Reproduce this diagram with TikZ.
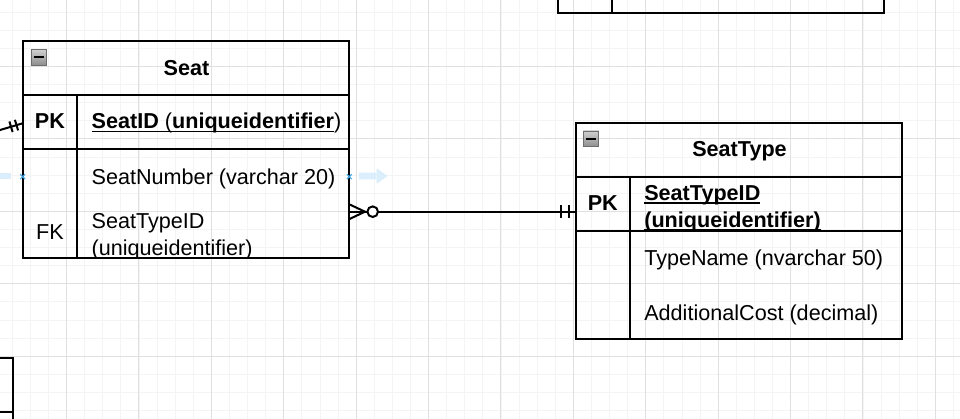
\documentclass[tikz,border=0pt]{standalone}
\usepackage{fontspec}
\setmainfont{Liberation Sans}
\usetikzlibrary{calc}
\definecolor{gridminor}{HTML}{F4F4F4}
\definecolor{gridmajor}{HTML}{E0E0E0}
\definecolor{hintblue}{HTML}{DAEEFB}
\definecolor{markblue}{HTML}{3EA8E5}
\definecolor{icontop}{HTML}{D0D0D0}
\definecolor{iconbot}{HTML}{8E8E8E}
\definecolor{iconedge}{HTML}{6E6E6E}
\begin{document}
\begin{tikzpicture}[x=1pt,y=-1pt,
  tablebox/.style={draw=black,line width=2.1pt,inner sep=0pt,outer sep=0pt,anchor=north west},
  border/.style={draw=black,line width=2.1pt},
  conn/.style={draw=black,line width=2pt},
  txt/.style={inner sep=0pt,outer sep=0pt,anchor=base west,font=\fontsize{21.6}{27}\selectfont},
  ctxt/.style={inner sep=0pt,outer sep=0pt,anchor=base,font=\fontsize{21.6}{27}\selectfont},
  uline/.style={draw=black,line width=1.4pt},
  minusicon/.style={draw=iconedge,line width=0.8pt,top color=icontop,bottom color=iconbot,minimum size=15.5pt,inner sep=0pt,outer sep=0pt},
  hint/.style={fill=hintblue,draw=none},
  bluecross/.style={draw=markblue,line width=1.1pt}
]
\useasboundingbox (0,0) rectangle (960,419);
\clip (0,0) rectangle (960,419);
% grid
\foreach \i in {0,...,54} {
  \draw[gridminor,line width=0.8pt] ({-5.9+18.1*\i},0) -- ({-5.9+18.1*\i},419);
}
\foreach \i in {0,...,24} {
  \draw[gridminor,line width=0.8pt] (0,{-5.9+18.1*\i}) -- (960,{-5.9+18.1*\i});
}
\foreach \i in {0,...,14} {
  \draw[gridmajor,line width=0.9pt] ({-5.9+72.4*\i},0) -- ({-5.9+72.4*\i},419);
}
\foreach \i in {0,...,6} {
  \draw[gridmajor,line width=0.9pt] (0,{-5.9+72.4*\i}) -- (960,{-5.9+72.4*\i});
}

% partial tables at the edges
\draw[border] (557.7,-20) rectangle (884,13.3);
\draw[border] (611.7,-20) -- (611.7,13.3);
\draw[border] (-20,358.3) -- (13.3,358.3) -- (13.3,440);
\draw[border] (-20,411.7) -- (13.3,411.7);

% blue hints
\fill[hint] (0,173) rectangle (10.5,179.5);
\fill[hint] (359,172.7) rectangle (377,179.3) (376.7,168.3) -- (387.7,176) -- (376.7,183.7) -- cycle;

% ===== Seat table =====
\node[tablebox,minimum width=326.6pt,minimum height=217.3pt] (seat) at (22.7,41) {};
\node[minusicon,anchor=north west] (seaticon) at (31,49.5) {};
\draw[black,line width=1.7pt] ($(seaticon.center)+(-4.8,0)$) -- ($(seaticon.center)+(4.8,0)$);
\node[ctxt,font=\fontsize{21.6}{27}\selectfont\bfseries] (seattitle) at (186.5,75.7) {Seat};
\node[ctxt,font=\fontsize{21.6}{27}\selectfont\bfseries] (seatpkl) at (50,129) {PK};
\node[txt,font=\fontsize{21.6}{27}\selectfont\bfseries] (seatid1) at (91.7,129) {SeatID\ \hbox{}};
\node[txt] (seatid2) at (seatid1.base east) {(};
\node[txt,font=\fontsize{21.6}{27}\selectfont\bfseries] (seatid3) at (seatid2.base east) {uniqueidentifier};
\node[txt] (seatid4) at (seatid3.base east) {)};
\draw[uline] ($(seatid1.base west)+(0,2.3)$) -- ($(seatid3.base east)+(0,2.3)$);
\node[txt] (seatnum) at (91.7,185) {SeatNumber (varchar 20)};
\node[ctxt] (seatfkl) at (50,239.5) {FK};
\begin{scope}
\clip (77.3,149.3) rectangle (349.3,257.5);
\node[txt] (seattid) at (91.7,228.2) {SeatTypeID};
\node[txt] (seattid2) at (91.7,255.8) {(uniqueidentifier)};
\end{scope}
\draw[border] (22.7,95) -- (349.3,95);
\draw[border] (22.7,149.3) -- (349.3,149.3);
\draw[border] (77.3,95) -- (77.3,258.3);
\draw[border] (seat.north west) rectangle (seat.south east);

% ===== SeatType table =====
\node[tablebox,minimum width=326.6pt,minimum height=216.6pt] (seattype) at (575.7,122.7) {};
\node[minusicon,anchor=north west] (sticon) at (583.3,131) {};
\draw[black,line width=1.7pt] ($(sticon.center)+(-4.8,0)$) -- ($(sticon.center)+(4.8,0)$);
\node[ctxt,font=\fontsize{21.6}{27}\selectfont\bfseries] (sttitle) at (739.5,156.7) {SeatType};
\node[ctxt,font=\fontsize{21.6}{27}\selectfont\bfseries] (stpkl) at (602.8,210.7) {PK};
\begin{scope}
\clip (630,176.7) rectangle (902.3,230.2);
\node[txt,font=\fontsize{21.6}{27}\selectfont\bfseries] (stid1) at (644.3,200.7) {SeatTypeID};
\node[txt,font=\fontsize{21.6}{27}\selectfont\bfseries] (stid2) at (644.3,227.6) {(uniqueidentifier)};
\draw[uline] ($(stid1.base west)+(0,2.3)$) -- ($(stid1.base east)+(0,2.3)$);
\draw[uline] ($(stid2.base west)+(0,2.3)$) -- ($(stid2.base east)+(0,2.3)$);
\end{scope}
\node[txt] (stname) at (644.3,266) {TypeName (nvarchar 50)};
\node[txt] (stcost) at (644.3,320) {AdditionalCost (decimal)};
\draw[border] (575.7,176.7) -- (902.3,176.7);
\draw[border] (575.7,230.7) -- (902.3,230.7);
\draw[border] (630,176.7) -- (630,339.3);
\draw[border] (seattype.north west) rectangle (seattype.south east);

% blue connection markers
\foreach \p in {(22.7,176.7),(349.3,176.7)} {
  \draw[bluecross] \p ++(-2.4,-2.4) -- ++(4.8,4.8);
  \draw[bluecross] \p ++(-2.4,2.4) -- ++(4.8,-4.8);
}

% ===== connectors =====
\coordinate (seatfk) at (349.3,211.7);
\coordinate (stpk) at (575.7,211.7);
\coordinate (crowtip) at (365,211.7);
\draw[conn] (seatfk) -- (stpk);
\draw[conn] ($(seatfk)+(0,-7.4)$) -- (crowtip) -- ($(seatfk)+(0,7.4)$);
\draw[conn,fill=white] (372.7,211.7) circle (5.3);
\draw[conn] ($(stpk)+(-14.7,-6.7)$) -- ($(stpk)+(-14.7,6.7)$);
\draw[conn] ($(stpk)+(-7,-6.7)$) -- ($(stpk)+(-7,6.7)$);

\coordinate (offleft) at (-30,138.9);
\coordinate (seatpk) at (22.7,123.3);
\draw[conn] (offleft) -- (seatpk);
\draw[conn] (9.4,121.5) -- (12.6,132);
\draw[conn] (14.9,119.8) -- (18.1,130.4);
\end{tikzpicture}
\end{document}
